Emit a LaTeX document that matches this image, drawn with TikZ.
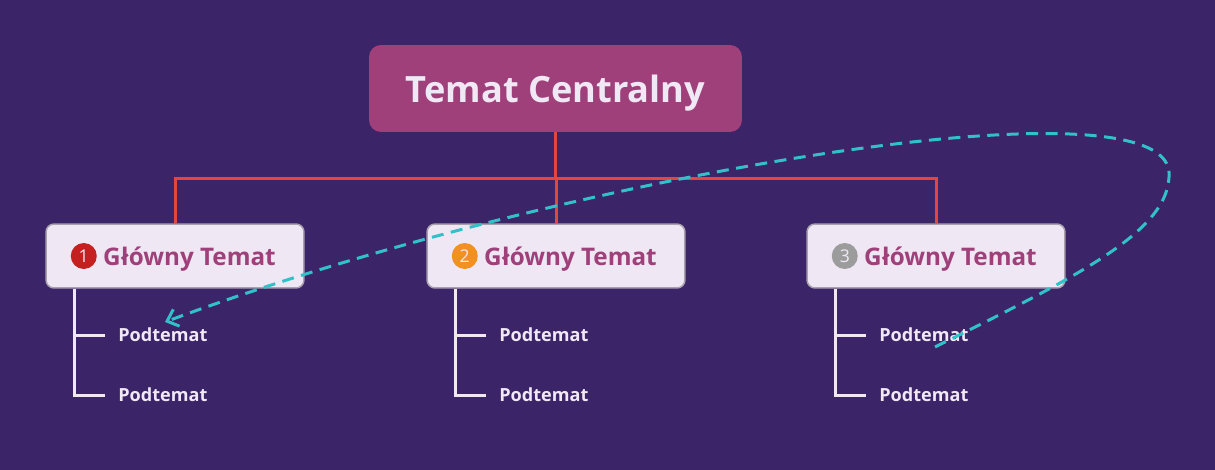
\documentclass[tikz,border=0pt]{standalone}
\usepackage{fontspec}
\setmainfont{Open Sans}
\usetikzlibrary{arrows.meta}

\definecolor{hintergrund}{HTML}{3C2468}
\definecolor{magenta}{HTML}{A0407A}
\definecolor{hell}{HTML}{F0E8F5}
\definecolor{kasten}{HTML}{EFE8F4}
\definecolor{rahmen}{HTML}{A8A0AC}
\definecolor{linie}{HTML}{E4453C}
\definecolor{tuerkis}{HTML}{30C2C8}
\definecolor{marke1}{HTML}{C42020}
\definecolor{marke2}{HTML}{F29022}
\definecolor{marke3}{HTML}{9C9C9C}

\tikzset{
  zentral/.style={rounded corners=0.24cm, fill=magenta, text=hell,
    minimum width=7.46cm, minimum height=1.74cm, text depth=0pt,
    font=\fontsize{20.6}{25}\selectfont\bfseries},
  thema/.style={rounded corners=0.16cm, fill=kasten, draw=rahmen, line width=0.03cm,
    minimum width=5.16cm, minimum height=1.28cm, text=magenta, text depth=0pt,
    font=\fontsize{13.8}{16}\selectfont\bfseries},
  marke/.style={circle, fill=#1, text=hell, inner sep=0pt, minimum size=0.52cm,
    font=\fontsize{10}{11}\selectfont},
  unter/.style={anchor=west, inner xsep=0.26cm, text=hell,
    font=\fontsize{10.3}{13}\selectfont\bfseries},
  ast/.style={draw=linie, line width=0.06cm},
  zweig/.style={draw=hell, line width=0.06cm},
  pfeil/.style={draw=tuerkis, line width=0.06cm, dash pattern=on 0.24cm off 0.15cm,
    -{Straight Barb[length=0.2cm,width=0.36cm]}}
}

\begin{document}
\begin{tikzpicture}[x=0.02cm,y=-0.02cm]

% Hintergrund
\useasboundingbox (0,0) rectangle (1215,470);
\fill[hintergrund] (0,0) rectangle (1215,470);

% Zentrales Thema
\node[zentral] (zentral) at (555.5,88.5) {Temat Centralny};
\coordinate (verteiler) at (555.5,178);

% Hauptthemen
\foreach \i/\x in {1/175,2/556,3/936} {
  \node[thema] (thema\i) at (\x,256) {\hspace{0.58cm}Główny Temat};
  \node[marke=marke\i] (punkt\i) at ([xshift=0.77cm]thema\i.west) {\i};
  \node[unter] (unter\i a) at (\x-70,335) {Podtemat};
  \node[unter] (unter\i b) at (\x-70,395) {Podtemat};
}

% Verbindungen
\draw[ast] (zentral.south) -- (verteiler);
\foreach \i in {1,2,3}
  \draw[ast] (verteiler) -| (thema\i.north);

% Unterthemen
\foreach \i in {1,2,3} {
  \coordinate (fuss\i) at ([xshift=0.58cm]thema\i.south west);
  \draw[zweig] (fuss\i) |- (unter\i a.west);
  \draw[zweig] (fuss\i) |- (unter\i b.west);
}

% Beziehung
\coordinate (anfang) at (935,347);
\coordinate (ziel) at (165,322);
\draw[pfeil] (anfang) .. controls (1080,275) and (1172,230) .. (1169,172)
  .. controls (1162,75) and (560,175) .. (ziel);

\end{tikzpicture}
\end{document}
